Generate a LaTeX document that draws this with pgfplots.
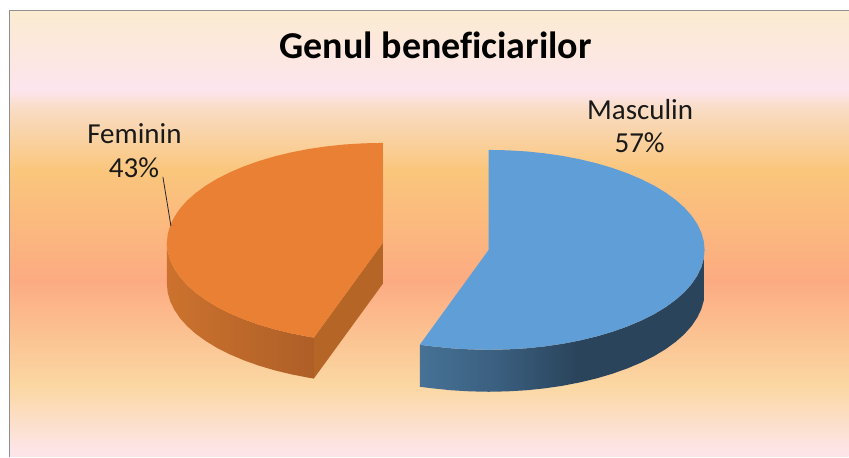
\documentclass[border=0pt]{standalone}
\usepackage{fontspec}
\setmainfont{Carlito}[RawFeature={-liga}]
\usepackage{pgfplots}
\pgfplotsset{compat=1.18}
\definecolor{bgA}{HTML}{FDE5E7}
\definecolor{bgB}{HTML}{FBD7A1}
\definecolor{bgC}{HTML}{FCAB81}
\definecolor{bgD}{HTML}{FAC67C}
\definecolor{bgE}{HTML}{F9DCC4}
\definecolor{bgF}{HTML}{FDE5EE}
\definecolor{bgG}{HTML}{FBEBD0}
\definecolor{masTop}{HTML}{5F9ED6}
\definecolor{masL}{HTML}{467296}
\definecolor{masM}{HTML}{3A5E7E}
\definecolor{masR}{HTML}{2A445C}
\definecolor{femTop}{HTML}{EA8034}
\definecolor{femL}{HTML}{CC722E}
\definecolor{femR}{HTML}{AE5F27}
\definecolor{femCut}{HTML}{B56626}
\definecolor{frameC}{HTML}{8E8E8E}
\pgfdeclareverticalshading{chartbg}{100bp}{
color(0bp)=(bgA);color(25bp)=(bgA);color(25.8bp)=(bgA);color(33.1bp)=(bgB);
color(44.8bp)=(bgC);color(57.1bp)=(bgD);color(64bp)=(bgE);color(66.1bp)=(bgF);
color(75bp)=(bgG);color(100bp)=(bgG)}
\pgfdeclarehorizontalshading{maswall}{100bp}{
color(0bp)=(masL);color(25bp)=(masL);color(39bp)=(masM);color(52.5bp)=(masR);color(100bp)=(masR)}
\begin{document}
\begin{tikzpicture}
\begin{axis}[
  scale only axis, width=849pt, height=457pt,
  xmin=0, xmax=849, ymin=0, ymax=457, y dir=reverse,
  hide axis, clip=false,
]
% page and chart background
\addplot[fill=white, draw=none] coordinates {(0,0)(849,0)(849,457)(0,457)} --cycle;
\addplot[shading=chartbg, draw=none] coordinates {(9.5,10.5)(849,10.5)(849,457)(9.5,457)} --cycle;
\addplot[draw=frameC, line width=1pt] coordinates {(9.5,457)(9.5,10.5)(849,10.5)};
% Feminin 43%: wall and cut
\addplot[left color=femL, right color=femR, draw=none] coordinates {
(167,243)(167.8,251.7)(170.3,260.4)(174.4,268.9)(180,277.2)(187.2,285.3)(195.9,293)(206.1,300.4)
(217.5,307.3)(230.3,313.7)(244.2,319.6)(259.1,324.9)(275,329.6)(291.7,333.6)(309.1,337)(314,337.8)
(314,378.8)(309.1,378)(291.7,374.6)(275,370.6)(259.1,365.9)(244.2,360.6)(230.3,354.7)(217.5,348.3)
(206.1,341.4)(195.9,334)(187.2,326.3)(180,318.2)(174.4,309.9)(170.3,301.4)(167.8,292.7)(167,284)
} --cycle;
\addplot[fill=femCut, draw=none] coordinates {(314,337.8)(383,243)(383,284)(314,378.8)} --cycle;
% Feminin 43%: top
\addplot[fill=femTop, draw=none] coordinates {
(383,243)(314,337.8)(309.1,337)(291.7,333.6)(275,329.6)(259.1,324.9)(244.2,319.6)(230.3,313.7)
(217.5,307.3)(206.1,300.4)(195.9,293)(187.2,285.3)(180,277.2)(174.4,268.9)(170.3,260.4)(167.8,251.7)
(167,243)(167.8,234.3)(170.3,225.6)(174.4,217.1)(180,208.8)(187.2,200.7)(195.9,193)(206.1,185.6)
(217.5,178.7)(230.3,172.3)(244.2,166.4)(259.1,161.1)(275,156.4)(291.7,152.4)(309.1,149)(327.1,146.4)
(345.5,144.5)(364.2,143.4)(383,143)
} --cycle;
% Masculin 57%: wall
\addplot[shading=maswall, draw=none] coordinates {
(705,250)(704.2,258.7)(701.7,267.4)(697.6,275.9)(692,284.2)(684.8,292.3)(676.1,300)(665.9,307.4)
(654.5,314.3)(641.7,320.7)(627.8,326.6)(612.9,331.9)(597,336.6)(580.3,340.6)(562.9,344)(544.9,346.6)
(526.5,348.5)(507.8,349.6)(489,350)(470.2,349.6)(451.5,348.5)(433.1,346.6)(420,345)
(420,387)(433.1,388.6)(451.5,390.5)(470.2,391.6)(489,392)(507.8,391.6)(526.5,390.5)(544.9,388.6)
(562.9,386)(580.3,382.6)(597,378.6)(612.9,373.9)(627.8,368.6)(641.7,362.7)(654.5,356.3)(665.9,349.4)
(676.1,342)(684.8,334.3)(692,326.2)(697.6,317.9)(701.7,309.4)(704.2,300.7)(705,292)
} --cycle;
% Masculin 57%: top
\addplot[fill=masTop, draw=none] coordinates {
(489,250)(489,150)(507.8,150.4)(526.5,151.5)(544.9,153.4)(562.9,156)(580.3,159.4)(597,163.4)
(612.9,168.1)(627.8,173.4)(641.7,179.3)(654.5,185.7)(665.9,192.6)(676.1,200)(684.8,207.7)(692,215.8)
(697.6,224.1)(701.7,232.6)(704.2,241.3)(705,250)(704.2,258.7)(701.7,267.4)(697.6,275.9)(692,284.2)
(684.8,292.3)(676.1,300)(665.9,307.4)(654.5,314.3)(641.7,320.7)(627.8,326.6)(612.9,331.9)(597,336.6)
(580.3,340.6)(562.9,344)(544.9,346.6)(526.5,348.5)(507.8,349.6)(489,350)(470.2,349.6)(451.5,348.5)
(433.1,346.6)(420,345)
} --cycle;
% leader line
\addplot[draw=black!85, line width=0.8pt] coordinates {(163,177)(171,226)};
% text
\node[anchor=base, font=\fontsize{38}{40}\selectfont\bfseries, text=black] at (axis cs:436,59) {Genul beneficiarilor};
\node[anchor=base, font=\fontsize{29}{30}\selectfont, text=black!90] at (axis cs:640.5,119.5) {Masculin};
\node[anchor=base, font=\fontsize{29}{30}\selectfont, text=black!90] at (axis cs:640,153) {57\%};
\node[anchor=base, font=\fontsize{29}{30}\selectfont, text=black!90] at (axis cs:134.5,144) {Feminin};
\node[anchor=base, font=\fontsize{29}{30}\selectfont, text=black!90] at (axis cs:134,178) {43\%};
\end{axis}
\end{tikzpicture}
\end{document}
